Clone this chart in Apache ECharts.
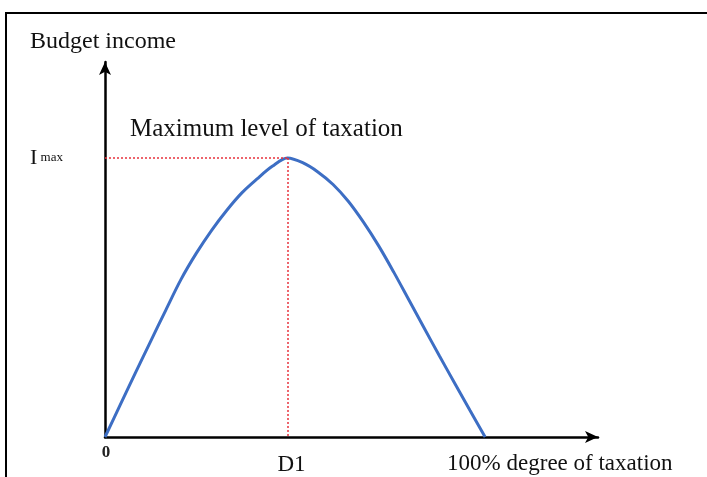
<!DOCTYPE html>
<html>
<head>
<meta charset="utf-8">
<script src="https://cdn.jsdelivr.net/npm/echarts@6/dist/echarts.min.js"></script>
<style>
  html, body { margin: 0; padding: 0; background: #fff; }
  #main { width: 707px; height: 477px; }
</style>
</head>
<body>
<div id="main"></div>
<script>
  // degree of taxation (%)
  var taxRate = [0, 4, 8, 12, 16, 20, 24, 28, 32, 36, 40, 44, 48, 52, 56, 60, 64, 68, 72, 76, 80, 84, 88, 92, 96, 100];
  // budget income (Imax = 100)
  var income = [0, 11.5, 23, 34.3, 45.5, 56.5, 65.8, 74, 81.2, 87.5, 92.5, 97, 100, 98.3, 95, 90.5, 84.5, 77, 68.5, 59, 49, 39, 29, 19.3, 9.6, 0];
  var peakRate = 48;
  var peakIncome = 100;
  var labels = { y: 'Budget income', x: '100% degree of taxation', peak: 'Maximum level of taxation', origin: '0', d: 'D1' };

  var serif = '"Liberation Serif", "DejaVu Serif", serif';
  var chart = echarts.init(document.getElementById('main'));

  var axisLine = function () {
    return {
      show: true,
      onZero: true,
      symbol: ['none', 'arrow'],
      symbolSize: [9, 13],
      lineStyle: { color: '#000', width: 2.5 }
    };
  };

  chart.setOption({
    animation: false,
    backgroundColor: '#fff',
    grid: { left: 105, right: 109, top: 62, bottom: 40 },
    xAxis: {
      type: 'value', min: 0, max: 129.7,
      axisLine: axisLine(), axisTick: { show: false }, axisLabel: { show: false }, splitLine: { show: false }
    },
    yAxis: {
      type: 'value', min: 0, max: 134.4,
      axisLine: axisLine(), axisTick: { show: false }, axisLabel: { show: false }, splitLine: { show: false }
    },
    series: [{
      type: 'line',
      smooth: 0.33,
      showSymbol: false,
      data: taxRate.map(function (x, i) { return [x, income[i]]; }),
      lineStyle: { color: '#3d6ec4', width: 3 },
      z: 3,
      markLine: {
        silent: true,
        symbol: 'none',
        label: { show: false },
        lineStyle: { color: '#e8323c', width: 1.5, type: [2, 2] },
        data: [
          [{ coord: [0, peakIncome] }, { coord: [peakRate, peakIncome] }],
          [{ coord: [peakRate, peakIncome] }, { coord: [peakRate, 0] }]
        ]
      }
    }]
  });

  var origin = chart.convertToPixel({ gridIndex: 0 }, [0, 0]);
  var peak = chart.convertToPixel({ gridIndex: 0 }, [peakRate, peakIncome]);
  var full = chart.convertToPixel({ gridIndex: 0 }, [100, 0]);

  chart.setOption({
    graphic: [
      // frame
      { type: 'polyline', shape: { points: [[6, 477], [6, 13], [707, 13]] }, style: { stroke: '#000', lineWidth: 2, fill: null } },
      { type: 'text', left: 30, top: 30, style: { text: labels.y, font: '24px ' + serif, fill: '#111' } },
      { type: 'text', left: 130, top: 117, style: { text: labels.peak, font: '25px ' + serif, fill: '#111' } },
      { type: 'text', x: 30, y: peak[1], style: {
          text: '{a|I}{b| max}', verticalAlign: 'middle',
          rich: { a: { font: '22px ' + serif, fill: '#111' }, b: { font: '13px ' + serif, fill: '#111' } }
      } },
      { type: 'text', x: origin[0] + 1, y: origin[1] + 16, style: { text: labels.origin, font: 'bold 17px ' + serif, fill: '#222', align: 'center', verticalAlign: 'middle' } },
      { type: 'text', x: peak[0] - 10, y: origin[1] + 28, style: { text: labels.d, font: '23px ' + serif, fill: '#111', verticalAlign: 'middle' } },
      { type: 'text', x: full[0] - 38, y: origin[1] + 27, style: { text: labels.x, font: '23px ' + serif, fill: '#111', verticalAlign: 'middle' } }
    ]
  });
</script>
</body>
</html>
